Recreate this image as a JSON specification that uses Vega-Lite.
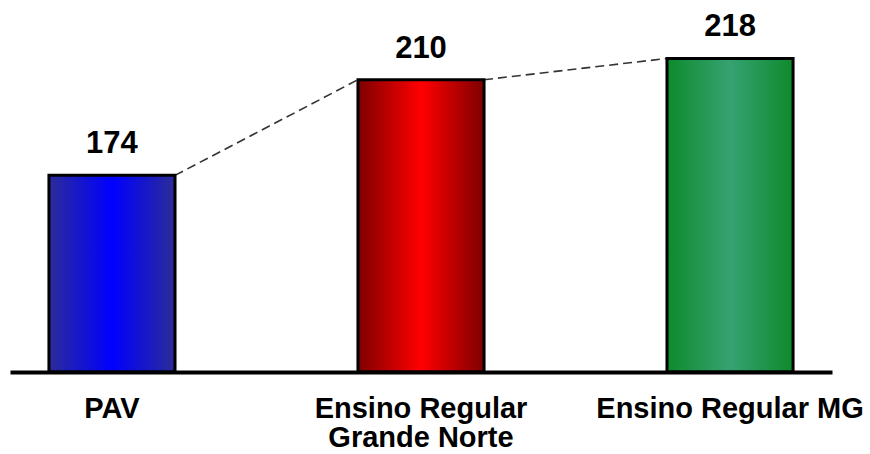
{
  "$schema": "https://vega.github.io/schema/vega-lite/v6.json",
  "width": 822,
  "height": 372,
  "autosize": "none",
  "padding": {"left": 10, "top": 0, "right": 38, "bottom": 82},
  "background": "white",
  "config": {"view": {"stroke": null}, "font": "Liberation Sans"},
  "datasets": {
    "bars": [
      {"name": "PAV", "value": 174},
      {"name": "Ensino Regular Grande Norte", "value": 210},
      {"name": "Ensino Regular MG", "value": 218}
    ],
    "segments": [
      {"from": "PAV", "v1": 174, "to": "Ensino Regular Grande Norte", "v2": 210},
      {"from": "Ensino Regular Grande Norte", "v1": 210, "to": "Ensino Regular MG", "v2": 218}
    ]
  },
  "encoding": {
    "x": {
      "field": "name", "type": "nominal", "title": null,
      "scale": {"domain": ["PAV", "Ensino Regular Grande Norte", "Ensino Regular MG"], "paddingInner": 0.592, "paddingOuter": 0.126},
      "axis": {
        "zindex": 1, "domainColor": "black", "domainWidth": 4, "ticks": false,
        "labelAngle": 0, "labelFontSize": 29, "labelFontWeight": "bold", "labelColor": "black", "labelAlign": "center",
        "labelPadding": 22, "labelLineHeight": 29, "labelOverlap": false, "labelBound": false, "labelLimit": 0,
        "labelExpr": "datum.label == 'Ensino Regular Grande Norte' ? ['Ensino Regular', 'Grande Norte'] : datum.label"
      }
    },
    "y": {"field": "value", "type": "quantitative", "scale": {"domain": [100, 240], "nice": false, "zero": false}, "axis": null}
  },
  "layer": [
    {
      "data": {"name": "segments"},
      "mark": {"type": "rule", "strokeDash": [9, 5], "stroke": "#333333", "strokeWidth": 1.6, "xOffset": 63, "x2Offset": -63},
      "encoding": {
        "x": {"field": "from", "type": "nominal", "title": null},
        "x2": {"field": "to"},
        "y": {"field": "v1", "type": "quantitative"},
        "y2": {"field": "v2"}
      }
    },
    {
      "data": {"name": "bars"},
      "transform": [{"filter": "datum.name == 'PAV'"}],
      "mark": {"type": "bar", "stroke": "black", "strokeWidth": 3, "color": {"gradient": "linear", "x1": 0, "x2": 1, "y1": 0, "y2": 0, "stops": [{"offset": 0, "color": "#2c2c98"}, {"offset": 0.5, "color": "#0000ff"}, {"offset": 1, "color": "#2c2c98"}]}},
      "encoding": {"y2": {"datum": 100}}
    },
    {
      "data": {"name": "bars"},
      "transform": [{"filter": "datum.name == 'Ensino Regular Grande Norte'"}],
      "mark": {"type": "bar", "stroke": "black", "strokeWidth": 3, "color": {"gradient": "linear", "x1": 0, "x2": 1, "y1": 0, "y2": 0, "stops": [{"offset": 0, "color": "#7e0000"}, {"offset": 0.5, "color": "#ff0000"}, {"offset": 1, "color": "#7e0000"}]}},
      "encoding": {"y2": {"datum": 100}}
    },
    {
      "data": {"name": "bars"},
      "transform": [{"filter": "datum.name == 'Ensino Regular MG'"}],
      "mark": {"type": "bar", "stroke": "black", "strokeWidth": 3, "color": {"gradient": "linear", "x1": 0, "x2": 1, "y1": 0, "y2": 0, "stops": [{"offset": 0, "color": "#0e8a2c"}, {"offset": 0.5, "color": "#36a272"}, {"offset": 1, "color": "#0e8a2c"}]}},
      "encoding": {"y2": {"datum": 100}}
    },
    {
      "data": {"name": "bars"},
      "mark": {"type": "text", "dy": -22, "baseline": "alphabetic", "fontSize": 31, "fontWeight": "bold", "color": "black"},
      "encoding": {
        "text": {"field": "value", "type": "quantitative"}
      }
    }
  ]
}
